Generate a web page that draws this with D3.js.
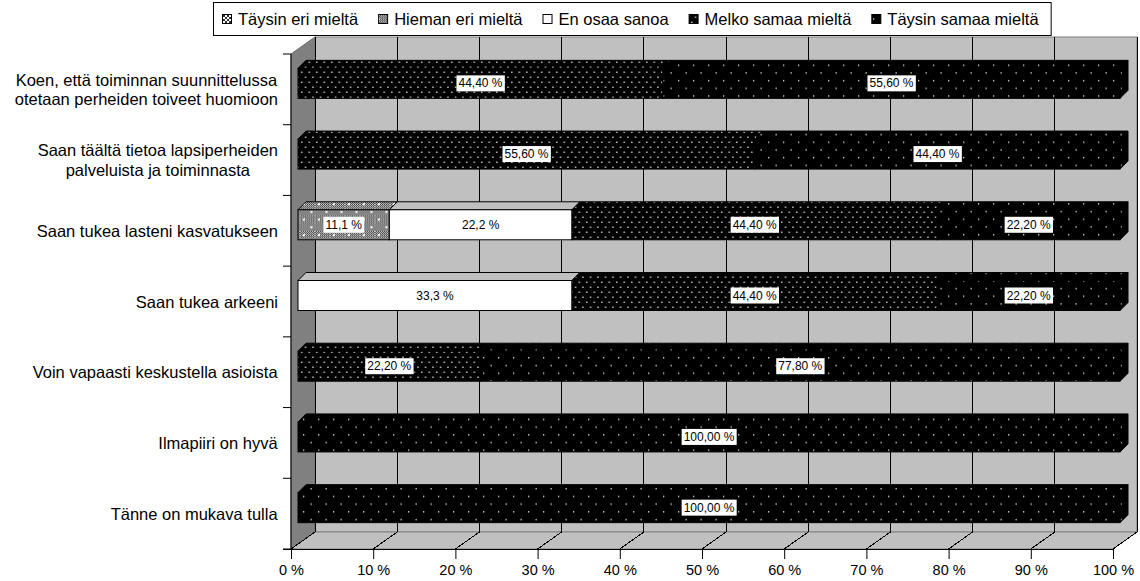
<!DOCTYPE html>
<html><head><meta charset="utf-8">
<script src="https://cdn.jsdelivr.net/npm/d3@7"></script>
<style>
html,body{margin:0;padding:0;background:#fff;}
svg{display:block;font-family:"Liberation Sans",Arial,sans-serif;}
</style></head>
<body><svg id="c" width="1140" height="581"></svg>
<script>
// ---- data ----
const categories = [
  "Koen, että toiminnan suunnittelussa|otetaan perheiden toiveet huomioon",
  "Saan täältä tietoa lapsiperheiden|palveluista ja toiminnasta",
  "Saan tukea lasteni kasvatukseen",
  "Saan tukea arkeeni",
  "Voin vapaasti keskustella asioista",
  "Ilmapiiri on hyvä",
  "Tänne on mukava tulla"
];
const seriesNames = ["Täysin eri mieltä","Hieman eri mieltä","En osaa sanoa","Melko samaa mieltä","Täysin samaa mieltä"];
const taysinEri   = [0,0,0,0,0,0,0];
const hieman      = [0,0,11.1,0,0,0,0];
const enOsaa      = [0,0,22.2,33.3,0,0,0];
const melko       = [44.4,55.6,44.4,44.4,22.2,0,0];
const taysinSamaa = [55.6,44.4,22.2,22.2,77.8,100,100];
const labelDecimals = [1,1,1,2,2];
const tickValues = [0,10,20,30,40,50,60,70,80,90,100];
const tickLabels = ["0 %","10 %","20 %","30 %","40 %","50 %","60 %","70 %","80 %","90 %","100 %"];

const seriesValues = [taysinEri,hieman,enOsaa,melko,taysinSamaa];
const rows = categories.map((c,i)=>{const o={cat:c}; seriesNames.forEach((s,k)=>o[s]=seriesValues[k][i]); return o;});

// ---- geometry ----
const svg = d3.select("#c");
const X0=291, X1=1113, YT=54, YB=549, DX=24, DY=17;
const x = d3.scaleLinear().domain([0,1]).range([X0,X1]);
const xPct = d3.scaleLinear().domain([0,100]).range([X0,X1]);
const y = d3.scaleBand().domain(categories).range([YT,YB]).padding(0);
const barH = 30, bOffX=7, bOffY=6, bDX=8, bDY=8;

// ---- patterns ----
const defs = svg.append("defs");
let p = defs.append("pattern").attr("id","checker").attr("patternUnits","userSpaceOnUse").attr("width",2).attr("height",2);
p.append("rect").attr("width",2).attr("height",2).attr("fill","#3a3a3a");
p.append("rect").attr("width",1).attr("height",1).attr("fill","#d0d0d0");
p.append("rect").attr("x",1).attr("y",1).attr("width",1).attr("height",1).attr("fill","#d0d0d0");

p = defs.append("pattern").attr("id","p1").attr("patternUnits","userSpaceOnUse").attr("width",15).attr("height",15.4);
p.append("rect").attr("width",15).attr("height",15.4).attr("fill","url(#checker)");
p.append("rect").attr("x",3).attr("y",3).attr("width",2).attr("height",2).attr("fill","#fff");
p.append("rect").attr("x",10.5).attr("y",10.7).attr("width",2).attr("height",2).attr("fill","#fff");

p = defs.append("pattern").attr("id","p0").attr("patternUnits","userSpaceOnUse").attr("width",4).attr("height",4);
p.append("rect").attr("width",4).attr("height",4).attr("fill","#fff");
p.append("path").attr("d","M0,0L4,4M4,0L0,4").attr("stroke","#333").attr("stroke-width",1);

p = defs.append("pattern").attr("id","p3").attr("patternUnits","userSpaceOnUse").attr("width",7.5).attr("height",10);
p.append("rect").attr("width",7.5).attr("height",10).attr("fill","#000");
p.append("rect").attr("x",1).attr("y",1.5).attr("width",1.5).attr("height",1.5).attr("fill","#bdbdbd");
p.append("rect").attr("x",4.75).attr("y",6.5).attr("width",1.5).attr("height",1.5).attr("fill","#bdbdbd");

p = defs.append("pattern").attr("id","p4").attr("patternUnits","userSpaceOnUse").attr("width",15).attr("height",15.4);
p.append("rect").attr("width",15).attr("height",15.4).attr("fill","#000");
p.append("rect").attr("x",3).attr("y",3).attr("width",1.3).attr("height",1.3).attr("fill","#e8e8e8");
p.append("rect").attr("x",10.5).attr("y",10.7).attr("width",1.3).attr("height",1.3).attr("fill","#e8e8e8");

const fills = ["url(#p0)","url(#p1)","#ffffff","url(#p3)","url(#p4)"];
const topFills = ["url(#p0)","url(#p1)","#c0c0c0","url(#p3)","url(#p4)"];

// ---- walls ----
svg.append("polygon").attr("points",[[X0,YT],[X0+DX,YT-DY],[X0+DX,YB-DY],[X0,YB]].join(" "))
  .attr("fill","#808080").attr("stroke","#6a6a6a");
svg.append("rect").attr("x",X0+DX).attr("y",YT-DY).attr("width",X1-X0).attr("height",YB-YT)
  .attr("fill","#c0c0c0").attr("stroke","#808080");
svg.append("polygon").attr("points",[[X0,YB],[X0+DX,YB-DY],[X1+DX,YB-DY],[X1,YB]].join(" "))
  .attr("fill","#c0c0c0").attr("stroke","#808080");

// gridlines
const grid = svg.append("g");
tickValues.forEach(v=>{
  const gx = xPct(v);
  grid.append("path").attr("d",`M${gx+DX},${YT-DY}V${YB-DY}L${gx},${YB}`)
    .attr("fill","none").attr("stroke","#000").attr("stroke-width",1).attr("shape-rendering","crispEdges");
});

// axes
const ax = svg.append("g").attr("transform",`translate(0,${YB})`)
  .call(d3.axisBottom(xPct).tickValues(tickValues).tickFormat((d,i)=>tickLabels[i]).tickSize(10).tickPadding(6));
ax.select(".domain").attr("d",`M${X0-8},0.5H${X1}`);
ax.selectAll("text").attr("font-size",14.5).attr("font-family","Liberation Sans, Arial, sans-serif").attr("fill","#000");
svg.append("line").attr("x1",X0).attr("x2",X0).attr("y1",YT).attr("y2",YB).attr("stroke","#000");
categories.concat([null]).forEach((c,i)=>{
  const ty = YT + i*y.step();
  svg.append("line").attr("x1",X0-8).attr("x2",X0).attr("y1",ty).attr("y2",ty).attr("stroke","#000");
});

// ---- bars ----
const stack = d3.stack().keys(seriesNames).offset(d3.stackOffsetExpand);
const stacked = stack(rows);
const barsG = svg.append("g");
categories.forEach((c,ri)=>{
  const cy = y(c) + y.bandwidth()/2 - bOffY;
  const yt = cy - barH/2, yb = cy + barH/2;
  const segs = stacked.map((s,k)=>({k, v0:s[ri][0], v1:s[ri][1], val:seriesValues[k][ri]})).filter(d=>d.val>0);
  segs.forEach((d,j)=>{
    const xl = x(d.v0)+bOffX, xr = x(d.v1)+bOffX;
    const g = barsG.append("g");
    g.append("polygon").attr("points",[[xl,yt],[xl+bDX,yt-bDY],[xr+bDX,yt-bDY],[xr,yt]].join(" "))
      .attr("fill",topFills[d.k]).attr("stroke","#000").attr("stroke-width",1);
    if (j===segs.length-1) {
      g.append("polygon").attr("points",[[xr,yt],[xr+bDX,yt-bDY],[xr+bDX,yb-bDY],[xr,yb]].join(" "))
        .attr("fill",fills[d.k]).attr("stroke","#000").attr("stroke-width",1);
    }
    g.append("rect").attr("x",xl).attr("y",yt).attr("width",xr-xl).attr("height",barH)
      .attr("fill",fills[d.k]).attr("stroke","#000").attr("stroke-width",1);
  });
  segs.forEach(d=>{
    const xl = x(d.v0)+bOffX, xr = x(d.v1)+bOffX;
    const txt = d.val.toFixed(labelDecimals[d.k]).replace(".",",")+" %";
    const t = barsG.append("text").attr("x",(xl+xr)/2).attr("y",cy).attr("text-anchor","middle")
      .attr("dominant-baseline","central").attr("font-size",12).text(txt);
    const bb = t.node().getBBox();
    barsG.insert("rect","text:last-of-type").attr("x",bb.x-2).attr("y",cy-8).attr("width",bb.width+4).attr("height",16).attr("fill","#fff");
  });
});

// ---- category labels ----
const catG = svg.append("g");
categories.forEach(c=>{
  const lines = c.split("|");
  const cy = y(c) + y.bandwidth()/2;
  const lh = 19.5;
  const t = catG.append("text").attr("font-size",16.5).attr("text-anchor","middle");
  lines.forEach((ln,i)=>{
    t.append("tspan").attr("x",0).attr("y",cy + (i-(lines.length-1)/2)*lh).attr("dominant-baseline","central").text(ln);
  });
  const w = t.node().getBBox().width;
  t.selectAll("tspan").attr("x",278 - w/2);
});

// ---- legend ----
const lg = svg.append("g");
const lgBox = lg.append("rect").attr("y",2.5).attr("height",33).attr("fill","#fff").attr("stroke","#000");
let lx = 222;
seriesNames.forEach((s,k)=>{
  lg.append("rect").attr("x",lx+0.5).attr("y",14.5).attr("width",9).attr("height",9).attr("fill",fills[k]).attr("stroke","#000");
  const t = lg.append("text").attr("x",lx+16).attr("y",19).attr("dominant-baseline","central").attr("font-size",16.5).text(s);
  lx += 16 + t.node().getComputedTextLength() + 20;
});
lgBox.attr("x",213.5).attr("width",lx-213-8);
</script></body></html>
